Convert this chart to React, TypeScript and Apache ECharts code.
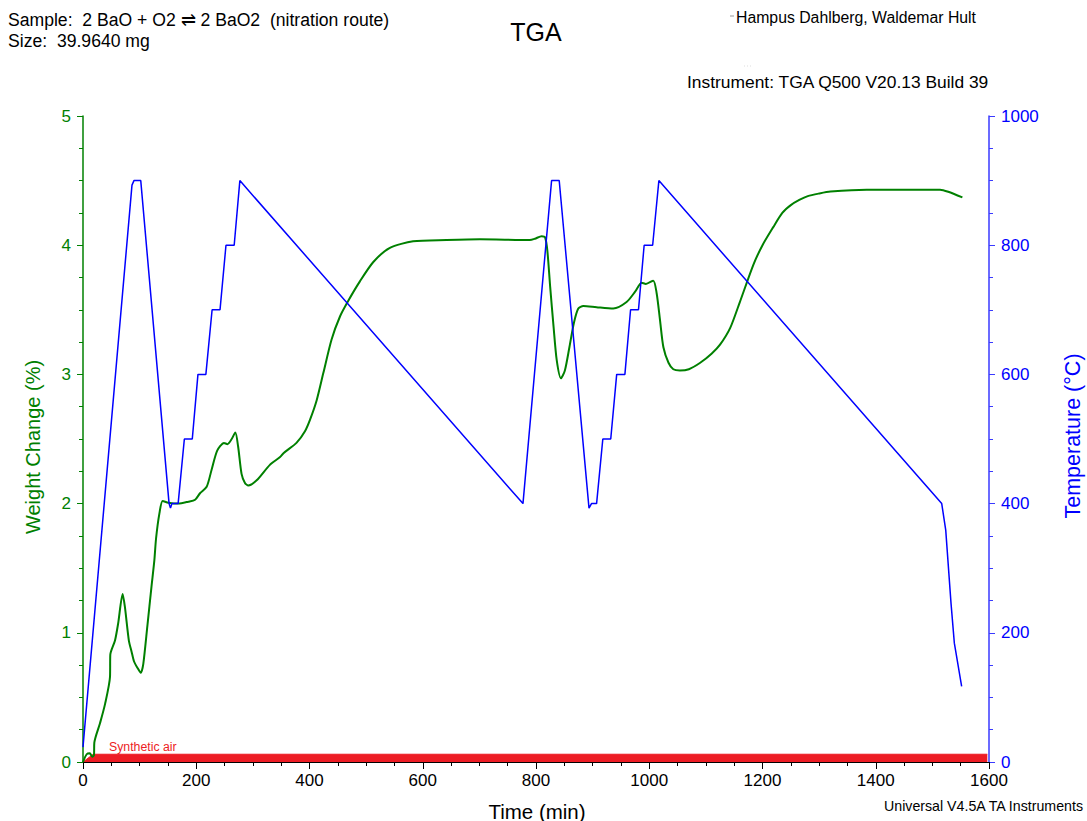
import React, { useEffect, useRef } from "react";
import * as echarts from "echarts";

// Temperature program (°C) vs time (min)
const tempTime = [0, 86.5, 90, 102, 152, 154.5, 157, 168, 179, 193, 203, 217, 228, 242, 252.5, 267, 277, 777, 827.5, 841, 893.6, 898, 907, 918, 932, 942.5, 957, 967, 981, 991, 1006, 1017, 1516.5, 1523.6, 1532.9, 1538.8, 1551.7];
const tempValue = [23, 893, 900, 900, 400, 393, 400, 400, 500, 500, 600, 600, 700, 700, 800, 800, 900, 400, 900, 900, 393, 400, 400, 500, 500, 600, 600, 700, 700, 800, 800, 900, 400, 359, 246, 184, 117];

// Weight change (%) vs time (min)
const weightTime = [0, 6.5, 12, 16.5, 19.4, 20, 30, 39, 47.7, 48.2, 56.5, 62, 70, 74, 81, 86, 90, 96, 102, 106.5, 113.6, 121, 126, 129, 134.8, 140.7, 150.7, 168, 186, 198, 206.6, 218.4, 227, 237, 249, 255, 262.6, 269, 274, 280, 286, 292, 306.7, 330, 348, 354, 377, 392, 401, 412.7, 424.4, 439, 454, 468.5, 489, 512.7, 542, 583, 642, 701, 789, 798, 810, 816, 820, 825, 831, 836.6, 844, 851, 859, 867, 874.7, 883.6, 907, 936.5, 960, 975, 986.6, 994, 1007, 1013, 1019, 1025, 1034, 1042.5, 1054, 1070, 1090, 1110, 1125, 1143, 1160, 1184, 1200, 1219, 1235, 1250, 1265, 1280, 1300, 1320, 1384, 1513.5, 1528, 1553];
const weightValue = [0, 0.06, 0.067, 0.04, 0.054, 0.15, 0.3, 0.45, 0.66, 0.83, 0.94, 1.07, 1.3, 1.2, 0.94, 0.85, 0.78, 0.73, 0.69, 0.76, 1.05, 1.36, 1.56, 1.73, 1.92, 2.02, 2.007, 2.0, 2.015, 2.03, 2.08, 2.13, 2.26, 2.41, 2.47, 2.46, 2.5, 2.55, 2.44, 2.23, 2.16, 2.14, 2.18, 2.3, 2.36, 2.39, 2.47, 2.56, 2.65, 2.8, 3.01, 3.27, 3.45, 3.57, 3.72, 3.87, 3.98, 4.03, 4.04, 4.046, 4.04, 4.05, 4.07, 4.06, 3.96, 3.68, 3.37, 3.11, 2.97, 3.03, 3.21, 3.4, 3.51, 3.53, 3.52, 3.51, 3.56, 3.64, 3.71, 3.7, 3.725, 3.63, 3.42, 3.21, 3.09, 3.04, 3.03, 3.04, 3.09, 3.16, 3.23, 3.36, 3.56, 3.85, 4.0, 4.14, 4.25, 4.31, 4.35, 4.38, 4.40, 4.415, 4.43, 4.43, 4.414, 4.37];

// Gas (synthetic air) indicator band
const gasTime = [0, 18, 1597];
const gasValue = [0, 0.06, 0.06];

const FONT = "'Liberation Sans', Arial, Helvetica, sans-serif";
const GREEN = "#008000";
const BLUE = "#0000ff";
const RED = "#ed1c24";

function zip(a: number[], b: number[]) {
  return a.map((v, i) => [v, b[i]]);
}

function txt(text: string, x: number, y: number, size: number, color: string, align = "left", rotation = 0) {
  return {
    type: "text",
    x,
    y,
    rotation,
    silent: true,
    style: {
      text,
      fill: color,
      fontSize: size,
      fontFamily: FONT,
      align,
      textAlign: align,
      verticalAlign: "middle",
      textVerticalAlign: "middle",
    },
  };
}

const plain = (v: number) => String(v);

export default function App() {
  const ref = useRef<HTMLDivElement>(null);
  useEffect(() => {
    if (!ref.current) return;
    const chart = echarts.init(ref.current, null, { renderer: "svg" });
    chart.setOption({
      animation: false,
      backgroundColor: "#ffffff",
      textStyle: { fontFamily: FONT },
      grid: { left: 83, right: 98, top: 116, bottom: 59, containLabel: false },
      xAxis: {
        type: "value",
        min: 0,
        max: 1600,
        interval: 200,
        axisLine: { show: true, onZero: false, lineStyle: { color: "#000", width: 1 } },
        axisTick: { show: true, inside: false, length: 7, lineStyle: { color: "#000" } },
        minorTick: { show: true, splitNumber: 4, length: 4, lineStyle: { color: "#000" } },
        splitLine: { show: false },
        axisLabel: { color: "#000", fontSize: 17, margin: 10, fontFamily: FONT, formatter: plain },
      },
      yAxis: [
        {
          type: "value",
          position: "left",
          min: 0,
          max: 5,
          interval: 1,
          axisLine: { show: true, lineStyle: { color: GREEN, width: 1.5 } },
          axisTick: { show: true, inside: false, length: 6, lineStyle: { color: GREEN } },
          minorTick: { show: true, splitNumber: 4, length: 4, lineStyle: { color: GREEN } },
          splitLine: { show: false },
          axisLabel: { color: GREEN, fontSize: 17, margin: 12, fontFamily: FONT, formatter: plain },
        },
        {
          type: "value",
          position: "right",
          min: 0,
          max: 1000,
          interval: 200,
          axisLine: { show: true, lineStyle: { color: "#3a3aff", width: 1.5 } },
          axisTick: { show: true, inside: false, length: 6, lineStyle: { color: "#3a3aff" } },
          minorTick: { show: true, splitNumber: 4, length: 4, lineStyle: { color: "#3a3aff" } },
          splitLine: { show: false },
          axisLabel: { color: BLUE, fontSize: 17, margin: 12, fontFamily: FONT, formatter: plain },
        },
      ],
      series: [
        {
          name: "Synthetic air",
          type: "line",
          yAxisIndex: 0,
          data: zip(gasTime, gasValue),
          showSymbol: false,
          lineStyle: { color: RED, width: 1 },
          areaStyle: { color: RED, opacity: 1 },
          z: 1,
        },
        {
          name: "Weight Change",
          type: "line",
          yAxisIndex: 0,
          data: zip(weightTime, weightValue),
          showSymbol: false,
          smooth: 0.25,
          lineStyle: { color: GREEN, width: 2 },
          z: 3,
        },
        {
          name: "Temperature",
          type: "line",
          yAxisIndex: 1,
          data: zip(tempTime, tempValue),
          showSymbol: false,
          lineStyle: { color: BLUE, width: 1.5 },
          z: 4,
        },
      ],
      graphic: [
        txt("Sample:  2 BaO + O2 \u21CC 2 BaO2  (nitration route)", 8, 20, 17.6, "#000"),
        txt("Size:  39.9640 mg", 8, 41, 17.6, "#000"),
        txt("TGA", 536, 32, 25, "#000", "center"),
        { type: "line", silent: true, shape: { x1: 730, y1: 16, x2: 734, y2: 16 }, style: { stroke: "#999", lineWidth: 1 } },
        txt("Hampus Dahlberg, Waldemar Hult", 736, 17, 15.8, "#000"),
        { type: "line", silent: true, shape: { x1: 744, y1: 66, x2: 753, y2: 66 }, style: { stroke: "#ddd", lineWidth: 1, lineDash: [1, 2] } },
        txt("Instrument: TGA Q500 V20.13 Build 39", 687, 82, 17.4, "#000"),
        txt("Universal V4.5A TA Instruments", 1083, 806, 14.2, "#000", "right"),
        txt("Time (min)", 537, 811, 20.5, "#000", "center"),
        txt("Weight Change (%)", 33, 447, 20, GREEN, "center", Math.PI / 2),
        txt("Temperature (\u00B0C)", 1073, 436, 21.5, BLUE, "center", Math.PI / 2),
        txt("Synthetic air", 109, 747, 12.3, RED),
      ],
    });
    return () => chart.dispose();
  }, []);
  return (
    <div
      ref={ref}
      style={{ position: "absolute", left: 0, top: 0, width: 1087, height: 821, background: "#fff" }}
    />
  );
}
